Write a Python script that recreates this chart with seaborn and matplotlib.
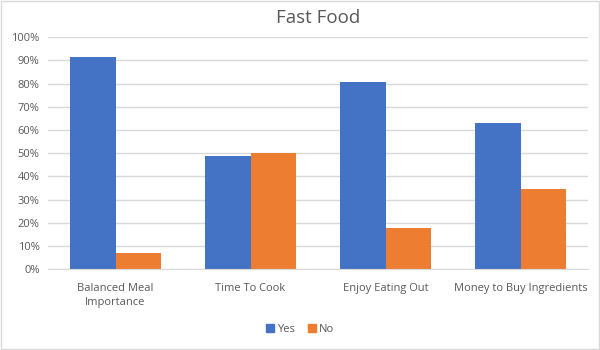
import matplotlib
matplotlib.use("Agg")
import matplotlib.pyplot as plt
import seaborn as sns
import pandas as pd
from matplotlib.ticker import PercentFormatter, MultipleLocator
from matplotlib.patches import Rectangle

categories = ["Balanced Meal\nImportance", "Time To Cook", "Enjoy Eating Out", "Money to Buy Ingredients"]
yes_values = [91.5, 48.8, 80.8, 62.9]
no_values = [7.0, 50.0, 17.8, 34.5]
series = ["Yes", "No"]
colors = ["#4472C4", "#ED7D31"]

df = pd.DataFrame({
    "Category": categories * 2,
    "Series": ["Yes"] * len(categories) + ["No"] * len(categories),
    "Value": yes_values + no_values,
})

sns.set_style("white")
plt.rcParams["font.family"] = ["Open Sans", "DejaVu Sans"]

fig = plt.figure(figsize=(6, 3.5), dpi=100)
ax = fig.add_axes([0.08, 0.231, 0.90, 0.663])

sns.barplot(data=df, x="Category", y="Value", hue="Series", hue_order=series,
            palette=colors, width=0.667, ax=ax, saturation=1, legend=False,
            linewidth=0, edgecolor="none")

ax.set_ylim(0, 100)
ax.yaxis.set_major_locator(MultipleLocator(10))
ax.yaxis.set_major_formatter(PercentFormatter(decimals=0))
ax.grid(axis="y", color="#D9D9D9", linewidth=1)
ax.set_axisbelow(True)
for s in ["top", "right", "left"]:
    ax.spines[s].set_visible(False)
ax.spines["bottom"].set_color("#D9D9D9")
ax.set_xlabel("")
ax.set_ylabel("")
ax.tick_params(axis="both", length=0, labelsize=8, labelcolor="#595959", pad=6)
ax.tick_params(axis="x", pad=10)
for lbl in ax.get_xticklabels():
    lbl.set_linespacing(1.4)
ax.set_title("Fast Food", fontsize=13.5, color="#595959", pad=10)

handles = [Rectangle((0, 0), 1, 1, color=c) for c in colors]
fig.legend(handles, series, loc="center", bbox_to_anchor=(0.5, 0.06), ncol=2,
           frameon=False, fontsize=8, labelcolor="#595959",
           handlelength=0.7, handleheight=0.7, handletextpad=0.3, columnspacing=1.2)

fig.patches.append(Rectangle((0.002, 0.003), 0.996, 0.994, transform=fig.transFigure,
                             fill=False, edgecolor="#D9D9D9", linewidth=1))

fig.savefig("out.png", dpi=100)
